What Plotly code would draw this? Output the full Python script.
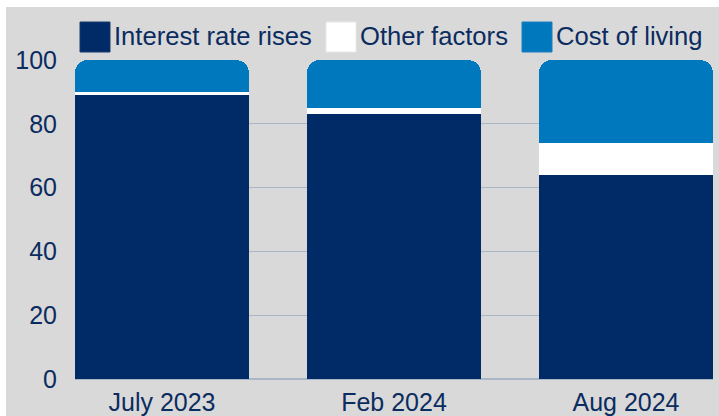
import plotly.graph_objects as go

categories = ["July 2023", "Feb 2024", "Aug 2024"]
interest_rate_rises = [89, 83, 64]
other_factors = [1, 2, 10]
cost_of_living = [10, 15, 26]
y_ticks = [0, 20, 40, 60, 80, 100]

NAVY = "#002B67"
BLUE = "#0078BE"
WHITE = "#FFFFFF"
GREY = "#D9D9D9"
TEXT = "#0B2C5F"
GRID = "#A9B6C8"
FONT = "Liberation Sans, Arial, sans-serif"
FS = 25
FS_LEG = 25.6

W, H = 719, 416
ML, MR, MT, MB = 75, 6, 60, 37
PW, PH = W - ML - MR, H - MT - MB

fig = go.Figure()
for name, vals, col in [("Interest rate rises", interest_rate_rises, NAVY),
                        ("Other factors", other_factors, WHITE),
                        ("Cost of living", cost_of_living, BLUE)]:
    fig.add_trace(go.Bar(x=categories, y=vals, name=name, marker_color=col,
                         marker_line_width=0, showlegend=False))

def px_x(p):
    return (p - ML) / PW

def px_y(p):
    return (H - MB - p) / PH

shapes = [dict(type="rect", xref="paper", yref="paper", layer="below",
               x0=px_x(6), x1=px_x(W), y0=px_y(H), y1=px_y(7),
               fillcolor=GREY, line_width=0)]
annotations = []
legend_items = [("Interest rate rises", NAVY, "#1a3a6e", 80),
                ("Other factors", WHITE, "#e8e8e8", 326),
                ("Cost of living", BLUE, "#1f7fbf", 522)]
for name, col, lc, x0 in legend_items:
    shapes.append(dict(type="rect", xref="paper", yref="paper",
                       x0=px_x(x0), x1=px_x(x0 + 30), y0=px_y(52), y1=px_y(22),
                       fillcolor=col, line=dict(color=lc, width=1)))
    annotations.append(dict(text=name, xref="paper", yref="paper",
                            x=px_x(x0 + 32), y=px_y(36), xanchor="left", yanchor="middle",
                            showarrow=False, font=dict(family=FONT, size=FS_LEG, color=TEXT)))

fig.update_layout(
    width=W, height=H,
    margin=dict(l=ML, r=MR, t=MT, b=MB, autoexpand=False),
    paper_bgcolor=WHITE, plot_bgcolor=GREY,
    barmode="stack", bargap=0.25, barcornerradius=13,
    shapes=shapes, annotations=annotations,
    font=dict(family=FONT, size=FS, color=TEXT),
    xaxis=dict(range=[-0.375, 2.375], showgrid=False, showline=False, zeroline=False,
               ticks="", ticklabelstandoff=6, tickfont=dict(size=FS, color=TEXT)),
    yaxis=dict(range=[0, 100], tickvals=y_ticks, showgrid=True, gridcolor=GRID, gridwidth=1,
               zeroline=True, zerolinecolor=GRID, zerolinewidth=2, showline=False,
               ticks="", ticklabelstandoff=17, tickfont=dict(size=FS, color=TEXT)),
)

fig.write_html("out.html")
